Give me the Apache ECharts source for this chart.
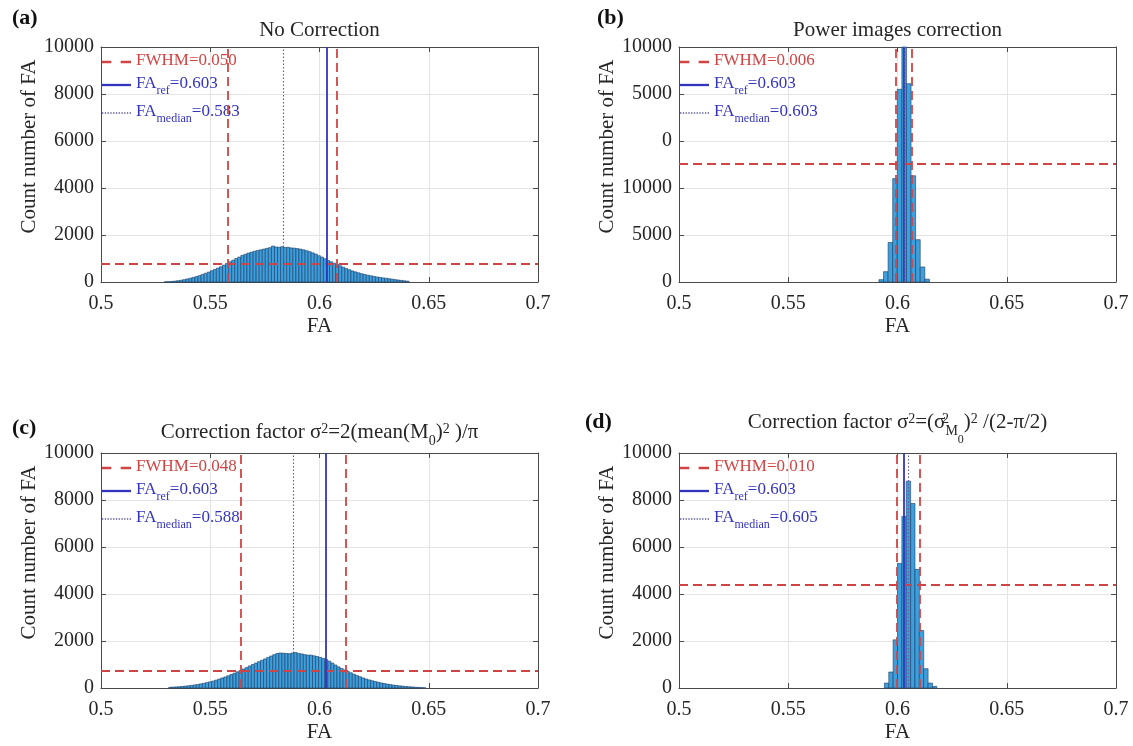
<!DOCTYPE html>
<html>
<head>
<meta charset="utf-8">
<script src="https://cdn.jsdelivr.net/npm/echarts@6/dist/echarts.min.js"></script>
<style>
  html, body { margin: 0; padding: 0; background: #fff; }
  #chart { width: 1133px; height: 746px; }
</style>
</head>
<body>
<div id="chart"></div>
<script>
// tick labels
const xTickLabels = ['0.5', '0.55', '0.6', '0.65', '0.7']
const yTickLabels = ['0', '2000', '4000', '6000', '8000', '10000']
const yTickLabelsB = ['0', '5000', '10000', '0', '5000', '10000']

// panel texts
const panelTags = ['(a)', '(b)', '(c)', '(d)']
const panelTitles = [
  '{t|No Correction}',
  '{t|Power images correction}',
  '{t|Correction factor σ}{sp|2}{t|=2(mean(M}{sb|0}{t|)}{sp|2}{t| )/π}',
  '{t|Correction factor σ}{sp|2}{t|=(σ}{sz|2}{sb|M}{sbb|0}{t|)}{sp|2}{t| /(2-π/2)}'
]
const fwhmText = ['0.050', '0.006', '0.048', '0.010']
const refText = ['0.603', '0.603', '0.603', '0.603']
const medianText = ['0.583', '0.603', '0.588', '0.605']

// marker lines
const fwhmLeft = [0.5581, 0.5993, 0.5638, 0.5998]
const fwhmRight = [0.6081, 0.6063, 0.6122, 0.6104]
const halfMax = [765, 12550, 750, 4380]
const faRef = [0.6033, 0.6030, 0.6030, 0.6028]
const faMedian = [0.5836, 0.6032, 0.5878, 0.6050]

// y ranges
const yMax = [10000, 25000, 10000, 10000]
const yStep = [2000, 5000, 2000, 2000]

// histograms
const binStart = [0.529, 0.5915, 0.531, 0.594]
const binWidth = [0.0014, 0.0021, 0.0014, 0.002]
const countsA = [
  8, 15, 25, 38, 55, 75, 100, 130, 160, 195,
  230, 270, 320, 370, 420, 480, 530, 590, 650, 720,
  790, 860, 930, 1000, 1060, 1130, 1180, 1230, 1270, 1310,
  1340, 1370, 1400, 1430, 1460, 1530, 1490, 1480, 1500, 1470,
  1475, 1450, 1440, 1420, 1400, 1370, 1330, 1290, 1240, 1190,
  1120, 1060, 990, 920, 860, 800, 750, 690, 630, 570,
  520, 470, 430, 390, 350, 320, 290, 265, 240, 215,
  195, 175, 160, 140, 120, 100, 85, 68, 50, 35
]
const countsB = [250, 1100, 4200, 11000, 20500, 29000, 21100, 11300, 4500, 1600, 300]
const countsC = [
  30, 38, 45, 55, 68, 80, 95, 112, 130, 150,
  175, 200, 230, 262, 295, 335, 380, 425, 470, 520,
  575, 630, 690, 750, 810, 870, 940, 1000, 1060, 1120,
  1180, 1240, 1300, 1360, 1420, 1470, 1490, 1480, 1470, 1460,
  1490, 1510, 1470, 1450, 1420, 1400, 1400, 1370, 1340, 1300,
  1260, 1210, 1140, 1060, 980, 900, 830, 770, 710, 650,
  590, 530, 480, 430, 385, 345, 310, 275, 245, 215,
  190, 165, 145, 125, 108, 92, 78, 65, 54, 44,
  35, 27, 18, 10
]
const countsD = [210, 680, 2050, 5300, 7300, 8800, 7850, 5050, 2450, 820, 210, 70]
const allCounts = [countsA, countsB, countsC, countsD]

const F = '"Liberation Serif", "Times New Roman", serif'
const TXT = '#262626'
const RED = '#d24444'
const BLUE = '#3434bf'
const DOT = '#5a5a9e'
const BOX = '#4a4a4a'
const gridPos = [[101, 47], [679, 47], [101, 453], [679, 453]]
const GW = 437
const GH = 235

// legend icons: dashed, solid, dotted
const dashIcon = 'path://M0,0h9v2.4h-9z M18,0h10v2.4h-10z'
const solidIcon = 'path://M0,0h30v2.4h-30z'
const dotIcon = 'path://M0,0h1.3v1.3h-1.3z M2.7,0h1.3v1.3h-1.3z M5.4,0h1.3v1.3h-1.3z M8.1,0h1.3v1.3h-1.3z M10.8,0h1.3v1.3h-1.3z M13.5,0h1.3v1.3h-1.3z M16.2,0h1.3v1.3h-1.3z M18.9,0h1.3v1.3h-1.3z M21.6,0h1.3v1.3h-1.3z M24.3,0h1.3v1.3h-1.3z M27,0h1.3v1.3h-1.3z'

const chart = echarts.init(document.getElementById('chart'))

const grids = []
const xAxes = []
const yAxes = []
const series = []
const titles = []
const legends = []
const legendText = {}

function renderBar(params, api) {
  const lo = api.value(0)
  const hi = api.value(1)
  const c = api.value(2)
  const a = api.coord([lo, c])
  const b = api.coord([hi, 0])
  const cs = params.coordSys
  const shape = echarts.graphic.clipRectByRect(
    { x: a[0], y: a[1], width: b[0] - a[0], height: b[1] - a[1] },
    { x: cs.x, y: cs.y, width: cs.width, height: cs.height }
  )
  if (!shape) return
  return {
    type: 'rect',
    shape: shape,
    style: { fill: '#3d9fdc', stroke: '#1b3d66', lineWidth: 0.6 }
  }
}

const rt = (size, extra) => Object.assign({
  color: TXT, fontFamily: F, fontSize: size, fontWeight: 'normal', verticalAlign: 'top'
}, extra)

for (let p = 0; p < 4; p++) {
  const [gx, gy] = gridPos[p]
  grids.push({ left: gx, top: gy, width: GW, height: GH })

  const tickStyle = { inside: true, length: 5, lineStyle: { color: BOX } }
  const lineStyle = { onZero: false, lineStyle: { color: BOX, width: 1 } }
  xAxes.push({
    type: 'value', gridIndex: p, min: 0.5, max: 0.7, interval: 0.05,
    axisLine: lineStyle, axisTick: tickStyle,
    axisLabel: {
      color: TXT, fontFamily: F, fontSize: 20, margin: 12, showMaxLabel: true,
      formatter: v => xTickLabels[Math.round((v - 0.5) / 0.05)]
    },
    splitLine: { show: true, lineStyle: { color: '#e4e4e4' } },
    name: 'FA', nameLocation: 'middle', nameGap: 34,
    nameTextStyle: { color: TXT, fontFamily: F, fontSize: 21 }
  })
  xAxes.push({
    type: 'value', gridIndex: p, position: 'top', min: 0.5, max: 0.7, interval: 0.05,
    axisLine: lineStyle, axisTick: tickStyle, axisLabel: { show: false }, splitLine: { show: false }
  })
  const labels = p === 1 ? yTickLabelsB : yTickLabels
  yAxes.push({
    type: 'value', gridIndex: p, min: 0, max: yMax[p], interval: yStep[p],
    axisLine: { show: true, onZero: false, lineStyle: { color: BOX, width: 1 } }, axisTick: { show: true, ...tickStyle },
    axisLabel: {
      color: TXT, fontFamily: F, fontSize: 20, margin: 7,
      formatter: v => labels[Math.round(v / yStep[p])]
    },
    splitLine: { show: true, lineStyle: { color: '#e4e4e4' } },
    name: 'Count number of FA', nameLocation: 'middle', nameGap: 60,
    nameTextStyle: { color: TXT, fontFamily: F, fontSize: 21, padding: [0, 0, 0, 36] }
  })
  yAxes.push({
    type: 'value', gridIndex: p, position: 'right', min: 0, max: yMax[p], interval: yStep[p],
    axisLine: { show: true, onZero: false, lineStyle: { color: BOX, width: 1 } }, axisTick: { show: true, ...tickStyle },
    axisLabel: { show: false }, splitLine: { show: false }
  })

  const bins = allCounts[p].map((c, i) => [
    binStart[p] + i * binWidth[p],
    binStart[p] + (i + 1) * binWidth[p],
    c
  ])
  series.push({
    type: 'custom', xAxisIndex: 2 * p, yAxisIndex: 2 * p,
    data: bins, renderItem: renderBar, silent: true, z: 2
  })

  const ml = (data, color, type, width) => ({
    symbol: ['none', 'none'], silent: true, animation: false, precision: 5,
    label: { show: false },
    lineStyle: { color, type, width },
    emphasis: { disabled: true },
    data
  })
  const nF = 'fwhm' + p
  const nR = 'ref' + p
  const nM = 'med' + p
  series.push({
    name: nF, type: 'line', xAxisIndex: 2 * p, yAxisIndex: 2 * p, data: [], symbol: 'none', z: 4,
    itemStyle: { color: RED }, lineStyle: { color: RED, type: [9, 5], width: 2 },
    markLine: ml([{ xAxis: fwhmLeft[p] }, { xAxis: fwhmRight[p] }, { yAxis: halfMax[p] }], RED, [9, 5], 1.8)
  })
  series.push({
    name: nR, type: 'line', xAxisIndex: 2 * p, yAxisIndex: 2 * p, data: [], symbol: 'none', z: 4,
    itemStyle: { color: BLUE }, lineStyle: { color: BLUE, type: 'solid', width: 2 },
    markLine: ml([{ xAxis: faRef[p] }], BLUE, 'solid', 1.8)
  })
  series.push({
    name: nM, type: 'line', xAxisIndex: 2 * p, yAxisIndex: 2 * p, data: [], symbol: 'none', z: 4,
    itemStyle: { color: DOT }, lineStyle: { color: DOT, type: [1.5, 2], width: 1.3 },
    markLine: ml([{ xAxis: faMedian[p] }], DOT, [1.5, 2], 1.1)
  })
  legendText[nF] = '{r|FWHM=' + fwhmText[p] + '}'
  legendText[nR] = '{b|FA}{s|ref}{b|=' + refText[p] + '}'
  legendText[nM] = '{b|FA}{s|median}{b|=' + medianText[p] + '}'

  legends.push({
    left: gx + 1, top: gy + 5, orient: 'vertical', padding: 0,
    itemWidth: 29, itemHeight: 14, itemGap: 6, selectedMode: false,
    symbolKeepAspect: true,
    itemStyle: { borderWidth: 0 },
    data: [
      { name: nF, icon: dashIcon },
      { name: nR, icon: solidIcon },
      { name: nM, icon: dotIcon }
    ],
    formatter: name => legendText[name],
    textStyle: {
      rich: {
        r: { color: RED, fontFamily: F, fontSize: 17, lineHeight: 20, verticalAlign: 'top' },
        b: { color: BLUE, fontFamily: F, fontSize: 17, lineHeight: 20, verticalAlign: 'top' },
        s: { color: BLUE, fontFamily: F, fontSize: 12, lineHeight: 12, verticalAlign: 'top', padding: [10, 0, 0, 0] }
      }
    }
  })

  titles.push({
    text: panelTitles[p], left: gx + GW / 2, top: p < 2 ? 20 : (p === 2 ? 422 : 412),
    textAlign: 'center', padding: 0,
    textStyle: {
      fontWeight: 'normal',
      rich: {
        t: rt(21, { lineHeight: 24 }),
        sp: rt(14, { lineHeight: 14 }),
        sz: rt(14, { lineHeight: 14, width: 0 }),
        sb: rt(14, { lineHeight: 14, padding: [12, 0, 0, 0] }),
        sbb: rt(12, { lineHeight: 12, padding: [22, 0, 0, 0] })
      }
    }
  })
  const tagPos = [[12, 7], [597, 7], [12, 417], [585, 411]]
  titles.push({
    text: panelTags[p], left: tagPos[p][0], top: tagPos[p][1], padding: 0,
    textStyle: { color: '#111', fontFamily: F, fontSize: 22, fontWeight: 'bold' }
  })
}

chart.setOption({
  animation: false,
  backgroundColor: '#fff',
  title: titles,
  legend: legends,
  grid: grids,
  xAxis: xAxes,
  yAxis: yAxes,
  series: series
})
</script>
</body>
</html>
